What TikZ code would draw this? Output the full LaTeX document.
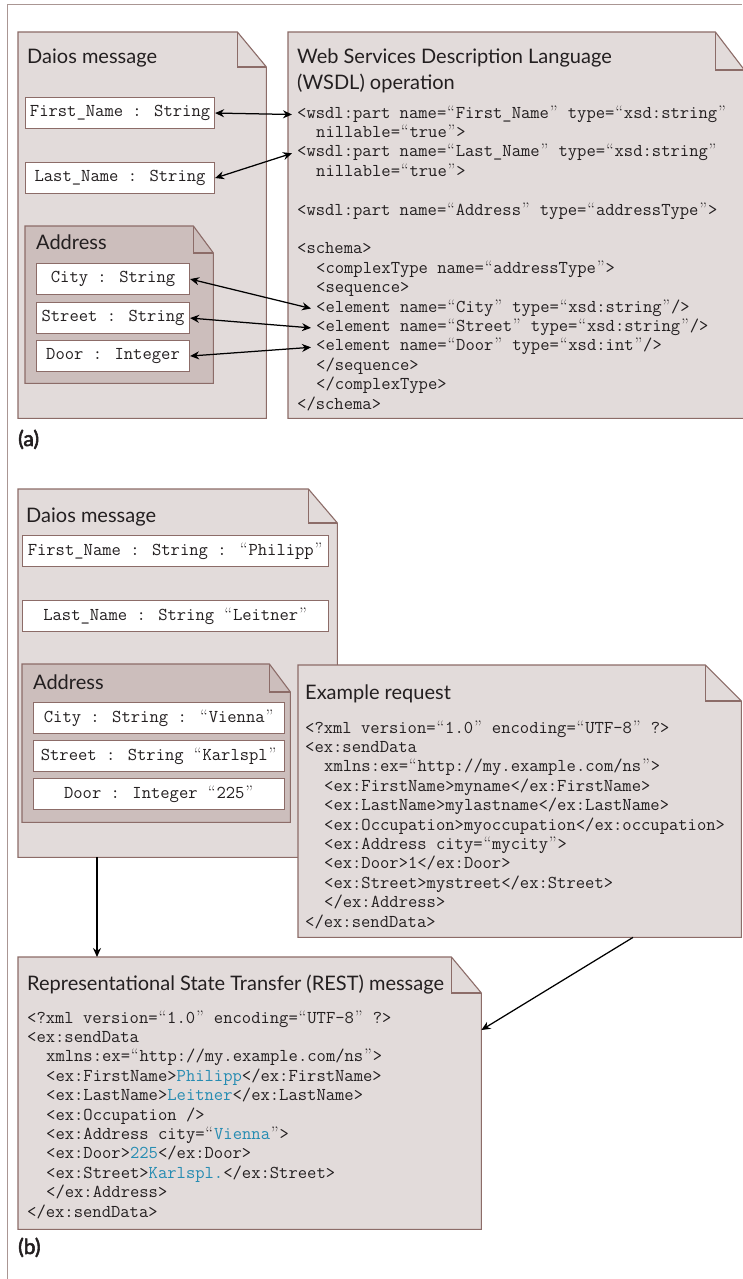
\documentclass[tikz,border=0pt]{standalone}
\usepackage{fontspec}
\newfontfamily\headfont{Lato}
\newfontfamily\labfont[FakeBold=2.5]{Lato}
\usetikzlibrary{arrows.meta}
\definecolor{docfill}{RGB}{226,219,218}
\definecolor{addrfill}{RGB}{204,190,188}
\definecolor{docedge}{RGB}{140,108,104}
\definecolor{framec}{RGB}{170,150,147}
\definecolor{codeblue}{RGB}{38,140,178}
\definecolor{ink}{RGB}{35,31,32}
\newcommand\codefont{\ttfamily\fontsize{18.1}{19.4}\selectfont}
\newcommand\blue[1]{\textcolor{codeblue}{#1}}
\newcommand\oq{\makebox[0.525em]{\rmfamily “}}
\newcommand\cq{\makebox[0.525em]{\rmfamily ”}}
\newcommand\foldeddoc[4]{%
  \draw[docline, fill=#4] (#1.north west) -- ([xshift=-#2]#1.north east) -- ([yshift=-#3]#1.north east) -- (#1.south east) -- (#1.south west) -- cycle;
  \draw[docline] ([xshift=-#2]#1.north east) -- ([xshift=-#2,yshift=-#3]#1.north east) -- ([yshift=-#3]#1.north east);
}
\tikzset{
  docline/.style={draw=docedge, line width=1.1pt, line join=miter},
  docnode/.style={inner sep=0pt, anchor=north west},
  valbox/.style={draw=docedge, fill=white, line width=1.1pt, minimum height=31pt, inner sep=0pt, font=\codefont, text=ink, anchor=north west},
  codeline/.style={anchor=base west, inner xsep=5pt, inner ysep=0pt, text height=10pt, text depth=3pt, font=\codefont, text=ink},
  headtxt/.style={anchor=base west, inner sep=0pt, font=\headfont\fontsize{20}{24}\selectfont, text=ink},
  labtxt/.style={anchor=base west, inner sep=0pt, font=\labfont\fontsize{21}{24}\selectfont, text=ink},
  dblarr/.style={{Stealth[length=9pt,width=8pt]}-{Stealth[length=9pt,width=8pt]}, line width=1.25pt, black},
  onearr/.style={-{Stealth[length=9pt,width=8pt]}, line width=1.25pt, black},
}
\begin{document}
\begin{tikzpicture}[x=1pt,y=-1pt]
\useasboundingbox (0,0) rectangle (742,1279);
\fill[white] (0,0) rectangle (742,1279);
\draw[framec, line width=1pt] (7,1279) -- (7,5) -- (742,5);

% ---------------- (a) ----------------
\node[docnode, minimum width=248pt, minimum height=386pt] (daiosA) at (18,32) {};
\foldeddoc{daiosA}{29pt}{35pt}{docfill}
\node[headtxt] (tdaiosA) at (27,64) {Daios message};
\node[valbox, minimum width=189pt] (fnA) at (25,97) {First\_Name : String};
\node[valbox, minimum width=189pt] (lnA) at (25,162) {Last\_Name : String};

\node[docnode, minimum width=188pt, minimum height=157pt] (addrA) at (25,226) {};
\foldeddoc{addrA}{20pt}{27pt}{addrfill}
\node[headtxt] (taddrA) at (36,249) {Address};
\node[valbox, minimum width=153pt] (cityA) at (36,263) {City : String};
\node[valbox, minimum width=153pt] (streetA) at (36,302) {Street : String};
\node[valbox, minimum width=153pt] (doorA) at (36,340) {Door : Integer};

\node[docnode, minimum width=456pt, minimum height=386pt] (wsdl) at (288,32) {};
\foldeddoc{wsdl}{29pt}{38pt}{docfill}
\node[headtxt] (twsdl1) at (297,64) {Web Services Description Language};
\node[headtxt] (twsdl2) at (297,90) {(WSDL) operation};

\node[codeline] (w1) at (292,118) {<wsdl:part name=\oq First\_Name\cq{} type=\oq xsd:string\cq};
\node[codeline] (w2) at (311,137.4) {nillable=\oq true\cq>};
\node[codeline] (w3) at (292,156.8) {<wsdl:part name=\oq Last\_Name\cq{} type=\oq xsd:string\cq};
\node[codeline] (w4) at (311,176.2) {nillable=\oq true\cq>};
\node[codeline] (w5) at (292,215) {<wsdl:part name=\oq Address\cq{} type=\oq addressType\cq>};
\node[codeline] (w6) at (292,253.8) {<schema>};
\node[codeline] (w7) at (311,273.2) {<complexType name=\oq addressType\cq>};
\node[codeline] (w8) at (311,292.6) {<sequence>};
\node[codeline] (w9) at (311,312) {<element name=\oq City\cq{} type=\oq xsd:string\cq/>};
\node[codeline] (w10) at (311,331.4) {<element name=\oq Street\cq{} type=\oq xsd:string\cq/>};
\node[codeline] (w11) at (311,350.8) {<element name=\oq Door\cq{} type=\oq xsd:int\cq/>};
\node[codeline] (w12) at (311,370.2) {</sequence>};
\node[codeline] (w13) at (311,389.6) {</complexType>};
\node[codeline] (w14) at (292,409) {</schema>};

\draw[dblarr] (fnA.east) -- (w1.west);
\draw[dblarr] (lnA.east) -- (w3.west);
\draw[dblarr] (cityA.east) -- (w9.west);
\draw[dblarr] (streetA.east) -- (w10.west);
\draw[dblarr] (doorA.east) -- (w11.west);

\node[labtxt] (laba) at (18,446) {(a)};

% ---------------- (b) ----------------
\node[docnode, minimum width=319pt, minimum height=368pt] (daiosB) at (18,489) {};
\foldeddoc{daiosB}{29pt}{34pt}{docfill}
\node[headtxt] (tdaiosB) at (26,522) {Daios message};
\node[valbox, minimum width=306pt] (fnB) at (22,535) {First\_Name : String : \oq Philipp\cq};
\node[valbox, minimum width=306pt] (lnB) at (22,600) {Last\_Name : String \oq Leitner\cq};

\node[docnode, minimum width=268pt, minimum height=158pt] (addrB) at (22,664) {};
\foldeddoc{addrB}{21pt}{28pt}{addrfill}
\node[headtxt] (taddrB) at (33,689) {Address};
\node[valbox, minimum width=251pt] (cityB) at (33,702) {City : String : \oq Vienna\cq};
\node[valbox, minimum width=251pt] (streetB) at (33,740) {Street : String \oq Karlspl\cq};
\node[valbox, minimum width=251pt] (doorB) at (33,778) {Door : Integer \oq 225\cq};

\node[docnode, minimum width=443pt, minimum height=272pt] (exreq) at (298,665) {};
\foldeddoc{exreq}{36pt}{36pt}{docfill}
\node[headtxt] (texreq) at (305,699) {Example request};
\node[codeline] (e1) at (300,733) {<?xml version=\oq 1.0\cq{} encoding=\oq UTF-8\cq{} ?>};
\node[codeline] (e2) at (300,752.4) {<ex:sendData};
\node[codeline] (e3) at (319,771.8) {xmlns:ex=\oq http://my.example.com/ns\cq>};
\node[codeline] (e4) at (319,791.2) {<ex:FirstName>myname</ex:FirstName>};
\node[codeline] (e5) at (319,810.6) {<ex:LastName>mylastname</ex:LastName>};
\node[codeline] (e6) at (319,830) {<ex:Occupation>myoccupation</ex:occupation>};
\node[codeline] (e7) at (319,849.4) {<ex:Address city=\oq mycity\cq>};
\node[codeline] (e8) at (319,868.8) {<ex:Door>1</ex:Door>};
\node[codeline] (e9) at (319,888.2) {<ex:Street>mystreet</ex:Street>};
\node[codeline] (e10) at (319,907.6) {</ex:Address>};
\node[codeline] (e11) at (300,927) {</ex:sendData>};

\node[docnode, minimum width=463pt, minimum height=272pt] (rest) at (18,957) {};
\foldeddoc{rest}{30pt}{36pt}{docfill}
\node[headtxt] (trest) at (27,990) {Representational State Transfer (REST) message};
\node[codeline] (r1) at (22,1023) {<?xml version=\oq 1.0\cq{} encoding=\oq UTF-8\cq{} ?>};
\node[codeline] (r2) at (22,1042.4) {<ex:sendData};
\node[codeline] (r3) at (41,1061.8) {xmlns:ex=\oq http://my.example.com/ns\cq>};
\node[codeline] (r4) at (41,1081.2) {<ex:FirstName>\blue{Philipp}</ex:FirstName>};
\node[codeline] (r5) at (41,1100.6) {<ex:LastName>\blue{Leitner}</ex:LastName>};
\node[codeline] (r6) at (41,1120) {<ex:Occupation />};
\node[codeline] (r7) at (41,1139.4) {<ex:Address city=\oq\blue{Vienna}\cq>};
\node[codeline] (r8) at (41,1158.8) {<ex:Door>\blue{225}</ex:Door>};
\node[codeline] (r9) at (41,1178.2) {<ex:Street>\blue{Karlspl.}</ex:Street>};
\node[codeline] (r10) at (41,1197.6) {</ex:Address>};
\node[codeline] (r11) at (22,1217) {</ex:sendData>};

\path (daiosB.south west) ++(79,0) coordinate (dsrc);
\draw[onearr] (dsrc) -- (dsrc |- rest.north);
\path (exreq.south west) ++(335,0) coordinate (esrc);
\path (rest.north east) ++(0,73) coordinate (etgt);
\draw[onearr] (esrc) -- (etgt);

\node[labtxt] (labb) at (18,1254) {(b)};
\end{tikzpicture}
\end{document}
